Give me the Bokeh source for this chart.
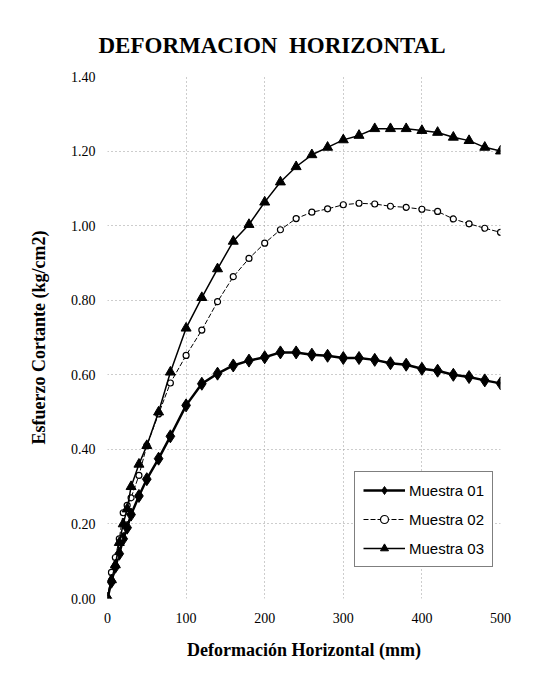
from bokeh.plotting import figure
from bokeh.models import FixedTicker, Legend, LegendItem, NumeralTickFormatter
from bokeh.embed import file_html
from bokeh.resources import INLINE

title_text = "DEFORMACION\u00a0\u00a0HORIZONTAL"
x_label = "Deformación Horizontal (mm)"
y_label = "Esfuerzo Cortante (kg/cm2)"
x_ticks = [0, 100, 200, 300, 400, 500]
y_ticks = [0.0, 0.2, 0.4, 0.6, 0.8, 1.0, 1.2, 1.4]

deformacion = [0, 5, 10, 15, 20, 25, 30, 40, 50, 65, 80, 100, 120, 140, 160, 180, 200,
               220, 240, 260, 280, 300, 320, 340, 360, 380, 400, 420, 440, 460, 480, 500]
muestra_01 = [0.00, 0.045, 0.085, 0.12, 0.16, 0.19, 0.225, 0.275, 0.32, 0.375, 0.435, 0.518,
              0.576, 0.603, 0.625, 0.638, 0.647, 0.660, 0.660, 0.654, 0.651, 0.645, 0.645,
              0.640, 0.631, 0.627, 0.616, 0.611, 0.600, 0.594, 0.585, 0.577]
muestra_02 = [0.00, 0.07, 0.11, 0.16, 0.23, 0.25, 0.27, 0.33, 0.41, 0.495, 0.578, 0.652,
              0.720, 0.796, 0.863, 0.912, 0.953, 0.989, 1.019, 1.036, 1.045, 1.056, 1.060,
              1.058, 1.052, 1.049, 1.044, 1.038, 1.018, 1.005, 0.993, 0.982]
muestra_03 = [0.00, 0.05, 0.09, 0.15, 0.20, 0.24, 0.30, 0.36, 0.41, 0.50, 0.607, 0.725,
              0.807, 0.884, 0.958, 1.003, 1.063, 1.117, 1.158, 1.190, 1.210, 1.230, 1.242,
              1.260, 1.260, 1.260, 1.255, 1.250, 1.237, 1.228, 1.210, 1.200]
series_names = ["Muestra 01", "Muestra 02", "Muestra 03"]

SERIF = "Liberation Serif"

p = figure(width=525, height=677, output_backend="svg", toolbar_location=None,
           x_range=(0, 500), y_range=(0, 1.4),
           min_border_left=107, min_border_right=25, min_border_top=76, min_border_bottom=79,
           title=title_text)
p.background_fill_color = "white"
p.border_fill_color = "white"
p.outline_line_color = None

p.title.text_font = SERIF
p.title.text_font_style = "bold"
p.title.text_font_size = "23px"
p.title.text_color = "black"
p.title.align = "left"
p.title.offset = -9
p.title.standoff = 37

for ax in (p.xaxis[0], p.yaxis[0]):
    ax.axis_line_color = None
    ax.major_tick_line_color = None
    ax.minor_tick_line_color = None
    ax.major_tick_out = 0
    ax.major_tick_in = 0
    ax.major_label_text_font = SERIF
    ax.major_label_text_font_size = "14px"
    ax.major_label_text_color = "black"
    ax.axis_label_text_font = SERIF
    ax.axis_label_text_font_style = "bold"
    ax.axis_label_text_font_size = "18px"
    ax.axis_label_text_color = "black"

p.xaxis.ticker = FixedTicker(ticks=x_ticks)
p.yaxis.ticker = FixedTicker(ticks=y_ticks)
p.yaxis.formatter = NumeralTickFormatter(format="0.00")
p.xaxis.axis_label = x_label
p.yaxis.axis_label = y_label
p.xaxis.major_label_standoff = 14
p.xaxis.axis_label_standoff = 14
p.yaxis.major_label_standoff = 12
p.yaxis.axis_label_standoff = 19

for g in (p.xgrid[0], p.ygrid[0]):
    g.grid_line_color = "#9a9a9a"
    g.grid_line_dash = "1 3"
    g.grid_line_width = 1

l1 = p.line(deformacion, muestra_01, line_color="black", line_width=2.5)
s1 = p.scatter(deformacion, muestra_01, marker="diamond", size=13,
               fill_color="black", line_color="black")
l2 = p.line(deformacion, muestra_02, line_color="black", line_width=1, line_dash="5 2")
s2 = p.scatter(deformacion, muestra_02, marker="circle", size=6,
               fill_color="white", line_color="black", line_width=1.2)
l3 = p.line(deformacion, muestra_03, line_color="black", line_width=1.5)
s3 = p.scatter(deformacion, muestra_03, marker="triangle", size=10,
               fill_color="black", line_color="black")

legend = Legend(items=[
    LegendItem(label=series_names[0], renderers=[l1, s1]),
    LegendItem(label=series_names[1], renderers=[l2, s2]),
    LegendItem(label=series_names[2], renderers=[l3, s3]),
], location=(247, 31))
legend.label_text_font = "Liberation Sans"
legend.label_text_font_size = "15px"
legend.label_text_color = "black"
legend.glyph_width = 42
legend.glyph_height = 20
legend.label_standoff = 4
legend.spacing = 9
legend.padding = 8
legend.margin = 0
legend.border_line_color = "black"
legend.border_line_width = 1.5
legend.background_fill_color = "white"
legend.background_fill_alpha = 1
p.add_layout(legend, "center")

open("out.html", "w").write(file_html(p, INLINE))
